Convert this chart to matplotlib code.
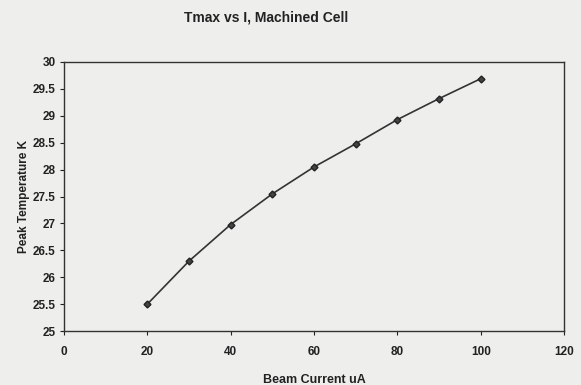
import matplotlib
matplotlib.use("Agg")
import matplotlib.pyplot as plt

beam_current = [20, 30, 40, 50, 60, 70, 80, 90, 100]
peak_temp = [25.50, 26.30, 26.98, 27.55, 28.05, 28.48, 28.93, 29.32, 29.69]
x_ticks = [0, 20, 40, 60, 80, 100, 120]
y_ticks = [25, 25.5, 26, 26.5, 27, 27.5, 28, 28.5, 29, 29.5, 30]
y_tick_labels = ["25", "25.5", "26", "26.5", "27", "27.5", "28", "28.5", "29", "29.5", "30"]

plt.rcParams['font.family'] = ['Liberation Sans', 'DejaVu Sans']
bg = '#eeeeec'
fig = plt.figure(figsize=(5.81, 3.85), dpi=100, facecolor=bg)
ax = fig.add_axes([0.110, 0.140, 0.861, 0.699], facecolor=bg)

ax.plot(beam_current, peak_temp, color='#333333', lw=1.2, marker='D', ms=3.5,
        mfc='#444444', mec='#222222')

ax.set_xlim(0, 120)
ax.set_ylim(25, 30)
ax.set_xticks(x_ticks)
ax.set_yticks(y_ticks)
ax.set_yticklabels(y_tick_labels)
for s in ax.spines.values():
    s.set_color('#333333')
    s.set_linewidth(1.0)
ax.tick_params(axis='both', labelsize=8.5, colors='#222222', length=3, width=0.8,
               direction='out')
ax.tick_params(axis='x', pad=8)
ax.tick_params(axis='y', pad=3)
for lab in ax.get_xticklabels() + ax.get_yticklabels():
    lab.set_fontweight('bold')

ax.set_xlabel('Beam Current uA', fontsize=9, fontweight='bold', color='#222222', labelpad=11)
ax.set_ylabel('Peak Temperature K', fontsize=8.5, fontweight='bold', color='#222222', labelpad=2)
fig.text(0.458, 0.955, 'Tmax vs I, Machined Cell', ha='center', va='center',
         fontsize=10, fontweight='bold', color='#222222')

fig.savefig('out.png', dpi=100, facecolor=bg)
